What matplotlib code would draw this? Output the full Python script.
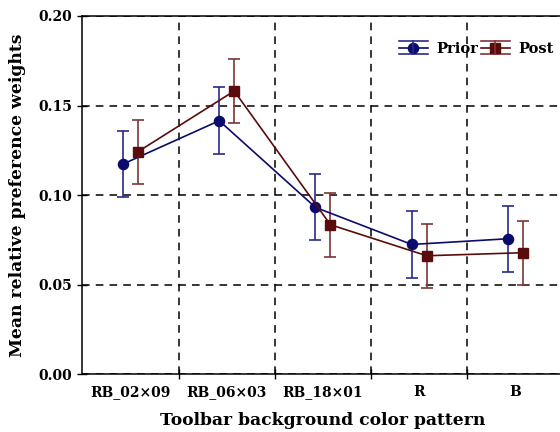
import numpy as np
import matplotlib
matplotlib.use("Agg")
import matplotlib.pyplot as plt
from matplotlib.lines import Line2D
from matplotlib.legend_handler import HandlerBase

categories = ["RB_02×09", "RB_06×03", "RB_18×01", "R", "B"]
prior_mean = [0.1173, 0.1415, 0.0931, 0.0724, 0.0756]
prior_err = [0.0185, 0.0186, 0.0184, 0.0185, 0.0185]
post_mean = [0.1242, 0.1581, 0.0834, 0.0661, 0.0678]
post_err = [0.0179, 0.0178, 0.0179, 0.0180, 0.0178]

prior_color = "#0b0b6e"
post_color = "#5a0c0c"


class ErrHandler(HandlerBase):
    # legend key: line with marker plus horizontal cap lines above and below
    def __init__(self, color, ecolor, marker, ms):
        super().__init__()
        self.color, self.ecolor, self.marker, self.ms = color, ecolor, marker, ms

    def create_artists(self, legend, orig_handle, xdescent, ydescent, width, height, fontsize, trans):
        yc = height / 2 - ydescent
        d = 5.0
        arts = []
        for yy, c in [(yc - d, self.ecolor), (yc + d, self.ecolor)]:
            arts.append(Line2D([-xdescent, width - xdescent], [yy, yy], color=c, lw=1.2, transform=trans))
        arts.append(Line2D([-xdescent, width - xdescent], [yc, yc], color=self.color, lw=1.2, transform=trans))
        arts.append(Line2D([width / 2 - xdescent], [yc], color=self.color, marker=self.marker,
                           markersize=self.ms, lw=0, transform=trans))
        arts.append(Line2D([width / 2 - xdescent] * 2, [yc - d, yc + d], color=self.ecolor, lw=1.2, transform=trans))
        return arts


plt.rcParams['font.family'] = ['DejaVu Serif']
plt.rcParams['font.weight'] = 'bold'

fig = plt.figure(figsize=(5.6, 4.32), dpi=100)
ax = fig.add_axes([0.147, 0.134, 0.8595, 0.829])

x = np.arange(len(categories))
off = 0.078

p1 = ax.errorbar(x - off, prior_mean, yerr=prior_err, color=prior_color, ecolor="#2a2a8a",
                 marker="o", markersize=7.3, lw=1.2, elinewidth=1.2, capsize=4, capthick=1.2,
                 zorder=3)
p2 = ax.errorbar(x + off, post_mean, yerr=post_err, color=post_color, ecolor="#7d3535",
                 marker="s", markersize=7, lw=1.2, elinewidth=1.2, capsize=4, capthick=1.2,
                 zorder=3)

ax.set_xlim(-0.5, len(categories) - 0.5)
ax.set_ylim(0, 0.2)
ax.set_yticks([0, 0.05, 0.10, 0.15, 0.20])
ax.set_yticklabels(["0.00", "0.05", "0.10", "0.15", "0.20"])

# category labels on minor ticks, grid on boundaries
ax.set_xticks(np.arange(0.5, len(categories) - 0.5, 1))
ax.set_xticklabels([])
ax.set_xticks(x, minor=True)
ax.set_xticklabels(categories, minor=True)
ax.tick_params(axis="x", which="minor", length=0, pad=8)
ax.tick_params(axis="both", which="major", direction="inout", length=7, width=1)
ax.tick_params(labelsize=10)

ax.grid(True, axis="x", which="major", color="black", linestyle=(0, (5, 4)), lw=1.1)
ax.grid(True, axis="y", which="major", color="black", linestyle=(0, (5, 4)), lw=1.1)
ax.set_axisbelow(True)

ax.spines["right"].set_visible(False)
for s in ["left", "bottom", "top"]:
    ax.spines[s].set_linewidth(1.1)

ax.set_xlabel("Toolbar background color pattern", fontsize=12.3, fontweight="bold", labelpad=9)
ax.set_ylabel("Mean relative preference weights", fontsize=12.3, fontweight="bold", labelpad=9)

h1 = Line2D([], [])
h2 = Line2D([], [])
ax.legend([h1, h2], ["Prior", "Post"], loc="upper right", ncol=2, frameon=False, fontsize=10.5,
          bbox_to_anchor=(1.006, 0.965), handlelength=2.0, columnspacing=0.2,
          handletextpad=0.55,
          handler_map={h1: ErrHandler(prior_color, "#2a2a8a", "o", 7.3),
                       h2: ErrHandler(post_color, "#7d3535", "s", 7)})

fig.savefig("out.png", dpi=100)
